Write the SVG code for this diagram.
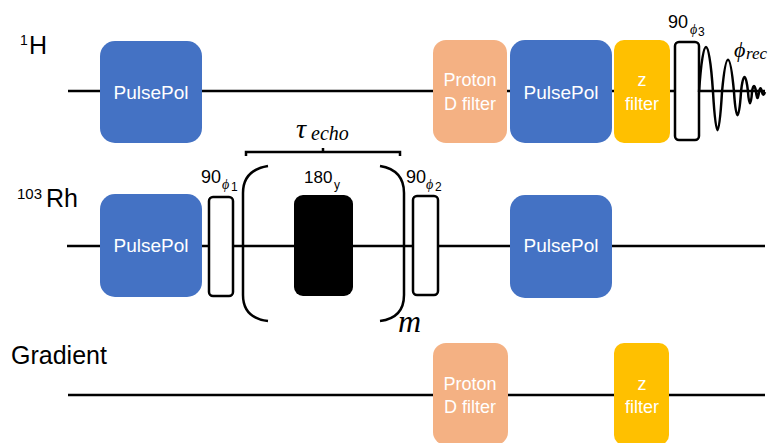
<svg xmlns="http://www.w3.org/2000/svg" width="768" height="443" viewBox="0 0 768 443">
<style>
.lbl{font-family:"Liberation Sans",Arial,sans-serif;fill:#000}
.box{font-family:"Liberation Sans",Arial,sans-serif;fill:#fff;text-anchor:middle}
.math{font-family:"Liberation Serif","Times New Roman",serif;font-style:italic;fill:#000}
.ln{stroke:#000;stroke-width:2.5;fill:none}
.pulse{fill:#fff;stroke:#000;stroke-width:2.5}
.pp{fill:#4472C4}
.pd{fill:#F4B183}
.zf{fill:#FFC000}
</style>
<rect width="768" height="443" fill="#fff"/>
<g id="connectors">
<line class="ln" x1="68" y1="91" x2="765" y2="91"/>
<line class="ln" x1="67" y1="246" x2="765" y2="246"/>
<line class="ln" x1="68" y1="395" x2="765" y2="395"/>
</g>
<g id="labels">
<text class="lbl" x="20" y="45" font-size="14">1</text>
<text class="lbl" x="29" y="54" font-size="25">H</text>
<text class="lbl" x="17" y="199" font-size="15">103</text>
<text class="lbl" x="46" y="207" font-size="25">Rh</text>
<text class="lbl" x="11" y="364" font-size="25">Gradient</text>
</g>
<g id="h-pulsepol1"><rect class="pp" x="100" y="41" width="102" height="102" rx="15"/><text class="box" x="151" y="99" font-size="19">PulsePol</text></g>
<g id="h-protond"><rect class="pd" x="433" y="40" width="74" height="103" rx="13"/><text class="box" x="470" y="86" font-size="18">Proton</text><text class="box" x="470" y="110" font-size="18">D filter</text></g>
<g id="h-pulsepol2"><rect class="pp" x="510" y="40" width="102" height="103" rx="15"/><text class="box" x="561" y="99" font-size="19">PulsePol</text></g>
<g id="h-zfilter"><rect class="zf" x="614" y="40" width="56" height="103" rx="10"/><text class="box" x="642" y="86" font-size="18">z</text><text class="box" x="642" y="110" font-size="18">filter</text></g>
<g id="h-90">
<rect class="pulse" x="675" y="42" width="24" height="98" rx="4"/>
<text class="lbl" x="668" y="28" font-size="18">90</text>
<text class="math" x="690" y="34" font-size="14">ϕ</text><text class="lbl" x="698" y="36" font-size="12">3</text>
</g>
<g id="h-fid">
<path class="ln" d="M699,92 C703,32 709,32 713,92 C716,143 719,143 722,92 C726,49 730,49 734,92 C736,123 739,123 741,92 C743,72 746,72 748,92 C749,107 751,107 752,92 C753,84 755,84 756,92 C757,100 758,100 759,92 C760,87 761,87 762,92 C763,96 764,95 765,92"/>
<text class="math" x="734" y="57" font-size="22">ϕ</text><text class="math" x="746" y="59" font-size="17">rec</text>
</g>
<g id="rh-pulsepol1"><rect class="pp" x="100" y="194" width="102" height="103" rx="15"/><text class="box" x="151" y="252" font-size="19">PulsePol</text></g>
<g id="rh-90-1">
<rect class="pulse" x="209" y="197" width="24" height="99" rx="4"/>
<text class="lbl" x="201" y="183" font-size="18">90</text>
<text class="math" x="222" y="189" font-size="14">ϕ</text><text class="lbl" x="231" y="191" font-size="12">1</text>
</g>
<g id="rh-echo">
<path class="ln" d="M268,166 Q243,170 243,193 L243,295 Q243,318 268,321"/>
<path class="ln" d="M380,166 Q404,170 404,193 L404,295 Q404,318 380,321"/>
<path class="ln" stroke-width="2" d="M246,156 L246,152 L400,152 L400,156 M323,152 L323,148"/>
<rect x="294" y="195" width="59" height="101" rx="9" fill="#000"/>
<text class="lbl" x="304" y="183" font-size="17">180</text><text class="lbl" x="334" y="189" font-size="12">y</text>
<text class="math" x="296" y="138" font-size="28">τ</text><text class="math" x="311" y="140" font-size="20">echo</text>
<text class="math" x="398" y="332" font-size="32">m</text>
</g>
<g id="rh-90-2">
<rect class="pulse" x="413" y="196" width="25" height="99" rx="4"/>
<text class="lbl" x="406" y="183" font-size="18">90</text>
<text class="math" x="426" y="189" font-size="14">ϕ</text><text class="lbl" x="435" y="191" font-size="12">2</text>
</g>
<g id="rh-pulsepol2"><rect class="pp" x="510" y="195" width="102" height="103" rx="15"/><text class="box" x="561" y="252" font-size="19">PulsePol</text></g>
<g id="g-protond"><rect class="pd" x="433" y="343" width="75" height="102" rx="13"/><text class="box" x="470" y="390" font-size="18">Proton</text><text class="box" x="470" y="413" font-size="18">D filter</text></g>
<g id="g-zfilter"><rect class="zf" x="614" y="343" width="55" height="102" rx="10"/><text class="box" x="642" y="390" font-size="18">z</text><text class="box" x="642" y="413" font-size="18">filter</text></g>
</svg>
